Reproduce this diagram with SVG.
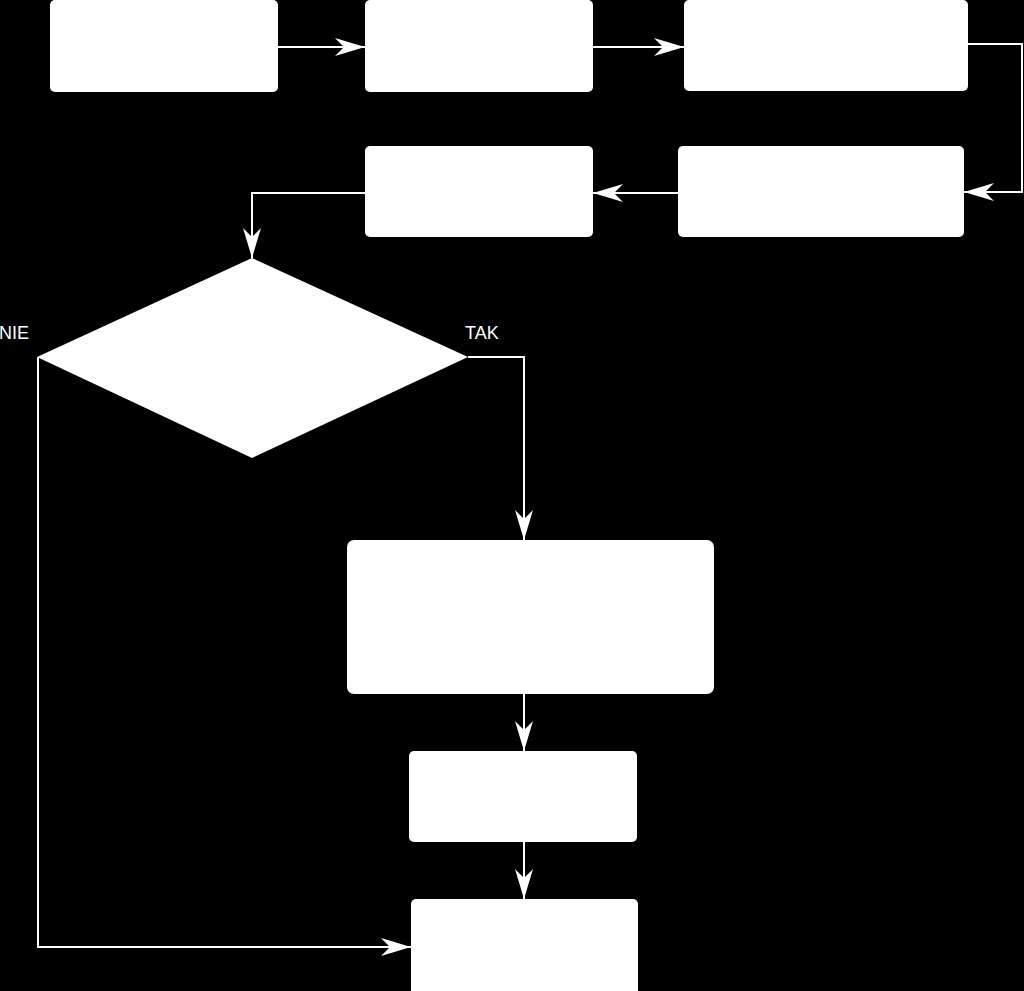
<svg xmlns="http://www.w3.org/2000/svg" width="1024" height="991" viewBox="0 0 1024 991">
<defs>
<style>
.node{fill:#ffffff;stroke:none}
.edge{fill:none;stroke:#ffffff;stroke-width:2}
.lbl{fill:#ffffff;font-family:"Liberation Sans",Arial,sans-serif;font-size:18px}
</style>
<marker id="arr" markerUnits="userSpaceOnUse" markerWidth="32" markerHeight="22" refX="30" refY="10" orient="auto">
<path d="M0,1 L30,10 L0,19 L9,10 Z" fill="#ffffff"/>
</marker>
</defs>
<rect width="1024" height="991" fill="#000000"/>
<g id="n1"><rect class="node" x="50" y="0" width="228" height="92" rx="5"/></g>
<g id="n2"><rect class="node" x="365" y="0" width="228" height="92" rx="5"/></g>
<g id="n3"><rect class="node" x="684" y="0" width="284" height="91" rx="5"/></g>
<g id="n5"><rect class="node" x="678" y="146" width="286" height="91" rx="5"/></g>
<g id="n4"><rect class="node" x="365" y="146" width="228" height="91" rx="5"/></g>
<g id="d1"><polygon class="node" points="252,258 468,357 252,458 37,357"/></g>
<g id="n6"><rect class="node" x="347" y="540" width="367" height="154" rx="7"/></g>
<g id="n7"><rect class="node" x="409" y="751" width="228" height="91" rx="5"/></g>
<g id="n8"><rect class="node" x="411" y="899" width="227" height="100" rx="5"/></g>
<g id="connectors">
<path class="edge" d="M278,47 L365,47" marker-end="url(#arr)"/>
<path class="edge" d="M593,47 L684,47" marker-end="url(#arr)"/>
<path class="edge" d="M968,44 L1022,44 L1022,192 L964,192" marker-end="url(#arr)"/>
<path class="edge" d="M678,193 L593,193" marker-end="url(#arr)"/>
<path class="edge" d="M365,193 L252,193 L252,258" marker-end="url(#arr)"/>
<path class="edge" d="M468,357 L524,357 L524,540" marker-end="url(#arr)"/>
<path class="edge" d="M524,694 L524,751" marker-end="url(#arr)"/>
<path class="edge" d="M524,842 L524,899" marker-end="url(#arr)"/>
<path class="edge" d="M38,357 L38,947 L411,947" marker-end="url(#arr)"/>
<text class="lbl" x="-1" y="339">NIE</text>
<text class="lbl" x="465" y="339">TAK</text>
</g>
</svg>
